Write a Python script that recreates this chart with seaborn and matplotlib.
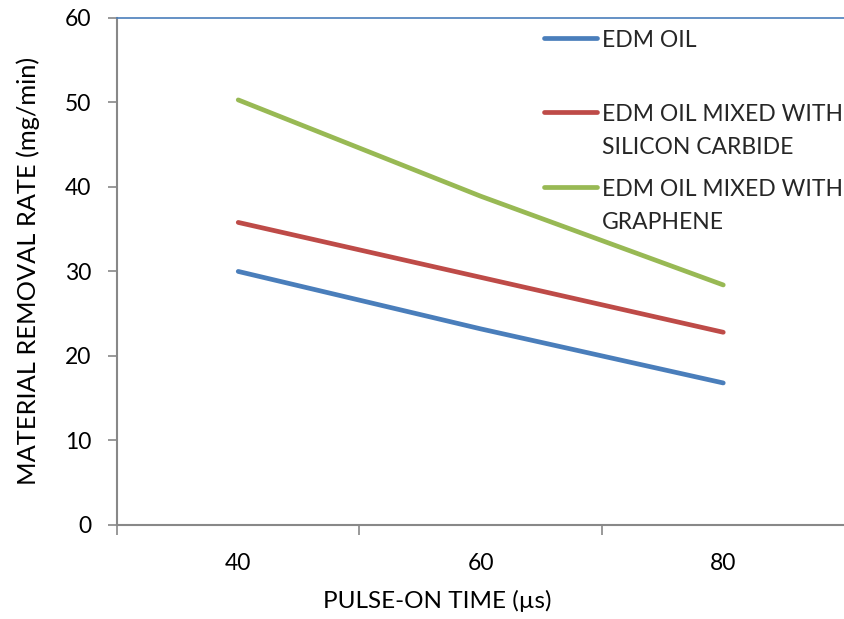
import matplotlib
matplotlib.use("Agg")
import matplotlib.pyplot as plt
import seaborn as sns
import pandas as pd
import numpy as np
from matplotlib.ticker import FixedLocator
from matplotlib.legend_handler import HandlerLine2D

pulse_on = [40, 60, 80]
edm_oil = [30.0, 23.2, 16.8]
edm_sic = [35.8, 29.3, 22.8]
edm_graphene = [50.3, 38.9, 28.4]
series_names = ["EDM OIL\n", "EDM OIL MIXED WITH\nSILICON CARBIDE", "EDM OIL MIXED WITH\nGRAPHENE"]
y_ticks = [0, 10, 20, 30, 40, 50, 60]

rows = []
for name, vals in zip(series_names, [edm_oil, edm_sic, edm_graphene]):
    for x, v in zip(pulse_on, vals):
        rows.append({"x": x, "y": v, "series": name})
df = pd.DataFrame(rows)

sns.set_theme(style="white")
plt.rcParams["font.family"] = ["Lato", "DejaVu Sans"]

FS = 16.5
LFS = 17.5
YLFS = 18.3
LSP = 1.69

fig = plt.figure(figsize=(8.44, 6.19), dpi=100)
ax = fig.add_axes([0.1386, 0.152, 0.862, 0.819])

palette = {series_names[0]: "#4A7EBB", series_names[1]: "#BE4B48", series_names[2]: "#98B954"}
sns.lineplot(data=df, x="x", y="y", hue="series", palette=palette, ax=ax,
             linewidth=3.4, legend=True)
for ln in ax.get_lines():
    ln.set_solid_capstyle("round")

ax.set_xlim(30, 90)
ax.set_ylim(0, 60)
ax.set_yticks(y_ticks)
ax.set_xticks(pulse_on)
ax.xaxis.set_minor_locator(FixedLocator([30, 50, 70, 90]))
ax.tick_params(axis="x", which="major", length=0, pad=20, labelsize=FS, colors="black")
ax.tick_params(axis="x", which="minor", length=7.5, width=1.2, color="#888888", direction="out", bottom=True)
ax.tick_params(axis="y", which="major", length=6.5, width=1.2, color="#888888", direction="out",
               left=True, labelsize=FS, labelcolor="black", pad=12)

ax.spines["right"].set_visible(False)
ax.spines["top"].set_color("#4A7EBB")
ax.spines["top"].set_linewidth(1.2)
for s in ["left", "bottom"]:
    ax.spines[s].set_color("#888888")
    ax.spines[s].set_linewidth(1.5)

ax.set_xlabel("PULSE-ON TIME (µs)", fontsize=LFS, color="black")
ax.set_ylabel("MATERIAL REMOVAL RATE (mg/min)", fontsize=YLFS, color="black")
ax.xaxis.label.set_va("center")
ax.xaxis.set_label_coords(0.44, -0.150)
ax.yaxis.label.set_va("center")
ax.yaxis.set_label_coords(-0.122, 0.5)


class ShiftedHandler(HandlerLine2D):
    def __init__(self, dy=0.0, **kw):
        super().__init__(**kw)
        self.dy = dy

    def create_artists(self, legend, orig_handle, xdescent, ydescent, width, height, fontsize, trans):
        arts = super().create_artists(legend, orig_handle, xdescent, ydescent, width, height, fontsize, trans)
        for a in arts:
            a.set_ydata(np.asarray(a.get_ydata(), dtype=float) + self.dy)
        return arts


handles, labels = ax.get_legend_handles_labels()
hmap = {}
for h, l in zip(handles, labels):
    nlines = l.count("\n")
    hmap[h] = ShiftedHandler(dy=nlines * LSP * FS / 2.0)
leg = ax.legend(handles, labels, loc="upper left", bbox_to_anchor=(0.575, 0.995),
                frameon=False, fontsize=FS, handlelength=2.3, handletextpad=0.2,
                labelspacing=0.92, borderaxespad=0.0, handler_map=hmap)
for t in leg.get_texts():
    t.set_linespacing(LSP)
for h in leg.get_lines():
    h.set_linewidth(3.4)
    h.set_solid_capstyle("round")

fig.savefig("out.png", dpi=100)
